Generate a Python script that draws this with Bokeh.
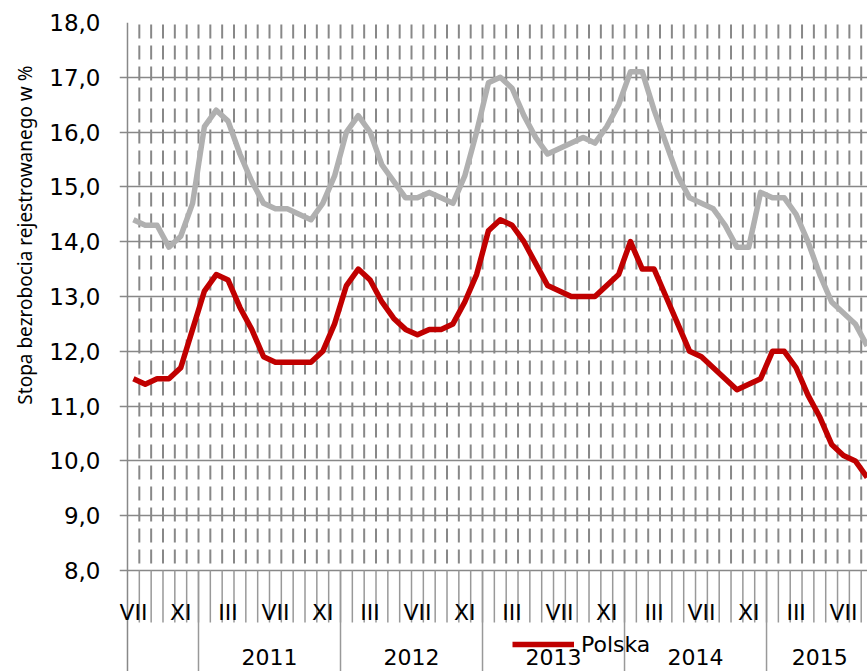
from bokeh.plotting import figure
from bokeh.models import Range1d, FixedTicker, Title, Legend, LegendItem
from bokeh.embed import file_html
from bokeh.resources import INLINE
from bokeh.core.properties import value

# ---- data ----
start_year = 2010
start_month = 7
roman = ["I", "II", "III", "IV", "V", "VI", "VII", "VIII", "IX", "X", "XI", "XII"]
labelled_months = [3, 7, 11]
year_labels = ["2011", "2012", "2013", "2014", "2015"]

polska = [11.5, 11.4, 11.5, 11.5, 11.7, 12.4,
          13.1, 13.4, 13.3, 12.8, 12.4, 11.9, 11.8, 11.8, 11.8, 11.8, 12.0, 12.5,
          13.2, 13.5, 13.3, 12.9, 12.6, 12.4, 12.3, 12.4, 12.4, 12.5, 12.9, 13.4,
          14.2, 14.4, 14.3, 14.0, 13.6, 13.2, 13.1, 13.0, 13.0, 13.0, 13.2, 13.4,
          14.0, 13.5, 13.5, 13.0, 12.5, 12.0, 11.9, 11.7, 11.5, 11.3, 11.4, 11.5,
          12.0, 12.0, 11.7, 11.2, 10.8, 10.3, 10.1, 10.0, 9.7]

region = [14.4, 14.3, 14.3, 13.9, 14.1, 14.7,
          16.1, 16.4, 16.2, 15.6, 15.1, 14.7, 14.6, 14.6, 14.5, 14.4, 14.7, 15.2,
          16.0, 16.3, 16.0, 15.4, 15.1, 14.8, 14.8, 14.9, 14.8, 14.7, 15.2, 16.0,
          16.9, 17.0, 16.8, 16.3, 15.9, 15.6, 15.7, 15.8, 15.9, 15.8, 16.1, 16.5,
          17.1, 17.1, 16.4, 15.8, 15.2, 14.8, 14.7, 14.6, 14.3, 13.9, 13.9, 14.9,
          14.8, 14.8, 14.5, 14.0, 13.4, 12.9, 12.7, 12.5, 12.1]

y_ticks = [8.0, 9.0, 10.0, 11.0, 12.0, 13.0, 14.0, 15.0, 16.0, 17.0, 18.0]

# ---- derived positions ----
n = len(polska)
idx = list(range(n))
month_num = [(start_month - 1 + i) % 12 + 1 for i in idx]
year_of = [start_year + (start_month - 1 + i) // 12 for i in idx]

axis_x = idx[0] - 0.5                             # category axis edge
bounds = [i + 0.5 for i in idx[:-1]]
year_bounds = [i - 0.5 for i in idx if month_num[i] == 1]
lab_x = [i for i in idx if month_num[i] in labelled_months]
lab_t = [roman[month_num[i] - 1] for i in lab_x]
year_x = []
for y in year_labels:
    ms = [i for i in idx if year_of[i] == int(y)]
    year_x.append((ms[0] + ms[-1]) / 2)

# ---- layout constants ----
W, H = 867, 671
top_border, left_border = 22, 118
frame_h = H - top_border
px_per_unit = 54.8          # vertical pixels per 1 percentage point
px_per_month = 11.85
tick_len = 8                # y tick length (px), drawn by the grid lines
ymin = y_ticks[-1] - frame_h / px_per_unit
upp = 1.0 / px_per_unit
x_start = axis_x - tick_len / px_per_month
x_end = x_start + (W - left_border) / px_per_month

grid_col = "#888888"
tick_col = "#999999"
font = "DejaVu Sans"

p = figure(width=W, height=H, output_backend="svg", toolbar_location=None,
           x_range=Range1d(x_start, x_end), y_range=Range1d(ymin, y_ticks[-1]),
           x_axis_location=None, min_border_left=left_border, min_border_top=top_border,
           min_border_bottom=0, min_border_right=0)
p.outline_line_color = None
p.background_fill_color = "white"
p.xgrid.grid_line_color = None

tk = FixedTicker(ticks=y_ticks)
p.yaxis.ticker = tk
p.ygrid.ticker = tk
p.ygrid.grid_line_color = grid_col
p.ygrid.grid_line_width = 1.5
p.yaxis.major_label_overrides = {t: ("%.1f" % t).replace(".", ",") for t in y_ticks}
p.yaxis.axis_line_color = None
p.yaxis.major_tick_line_color = None
p.yaxis.major_tick_out = 0
p.yaxis.major_tick_in = 0
p.yaxis.minor_tick_line_color = None
p.yaxis.major_label_standoff = 19
p.yaxis.major_label_text_font = font
p.yaxis.major_label_text_font_size = "23px"
p.yaxis.major_label_text_color = "black"

# value axis line (runs down through the category labels)
p.segment(x0=[axis_x], y0=[y_ticks[-1]], x1=[axis_x], y1=[ymin],
          line_color=grid_col, line_width=1.5)
# vertical dashed month gridlines
p.segment(x0=bounds, y0=y_ticks[-1], x1=bounds, y1=y_ticks[0], line_color=grid_col,
          line_width=2, line_dash="14 7", line_dash_offset=19)
# month tick lines below the axis
p.segment(x0=bounds, y0=y_ticks[0], x1=bounds, y1=y_ticks[0] - 52 * upp,
          line_color=tick_col, line_width=1.5)
# year separators
p.segment(x0=year_bounds, y0=y_ticks[0], x1=year_bounds, y1=ymin,
          line_color=tick_col, line_width=1.5)

# month & year labels
p.text(x=lab_x, y=[y_ticks[0]] * len(lab_x), text=lab_t, y_offset=42,
       text_align="center", text_baseline="alphabetic",
       text_font=value(font), text_font_size="22px", text_color="black")
p.text(x=year_x, y=[y_ticks[0]] * len(year_x), text=year_labels, y_offset=86,
       text_align="center", text_baseline="alphabetic",
       text_font=value(font), text_font_size="22px", text_color="black")

# series
p.line(idx, region, line_color="#B0B0B0", line_width=5.5, line_join="round")
red = p.line(idx, polska, line_color="#C00000", line_width=5.5, line_join="round")

legend = Legend(items=[LegendItem(label="Polska", renderers=[red])],
                location=(393, 14), glyph_width=62, glyph_height=26, label_height=26,
                label_standoff=7, padding=0, margin=0, spacing=0,
                background_fill_alpha=0, border_line_alpha=0,
                label_text_font=font, label_text_font_size="22px",
                label_text_color="black")
p.add_layout(legend)

p.add_layout(Title(text="Stopa bezrobocia rejestrowanego w %", align="right", offset=43,
                   text_font="Noto Sans", text_font_size="19px", text_font_style="normal",
                   text_color="black", standoff=18), "left")

open("out.html", "w").write(file_html(p, INLINE))
